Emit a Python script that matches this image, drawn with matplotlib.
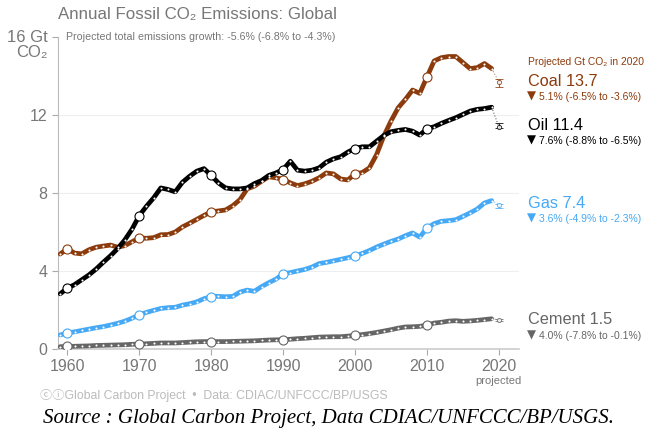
import numpy as np
import matplotlib.pyplot as plt

plt.rcParams['font.family'] = ['Liberation Sans', 'DejaVu Sans', 'Noto Sans CJK SC']

# --- dane (Gt CO2) ---
years = list(range(1959, 2020))

coal = [4.87, 5.14, 4.92, 4.88, 5.09, 5.22, 5.28, 5.33, 5.22, 5.30,
        5.50, 5.69, 5.68, 5.71, 5.86, 5.87, 6.00, 6.26, 6.45, 6.65,
        6.85, 7.03, 7.08, 7.13, 7.35, 7.66, 8.21, 8.35, 8.60, 8.83,
        8.78, 8.69, 8.52, 8.38, 8.47, 8.60, 8.78, 9.03, 8.98, 8.72,
        8.67, 8.98, 9.05, 9.29, 9.97, 10.92, 11.69, 12.37, 12.80, 13.28,
        13.11, 13.95, 14.77, 14.94, 15.00, 15.00, 14.69, 14.38, 14.43, 14.64,
        14.38]

oil = [2.83, 3.12, 3.30, 3.55, 3.80, 4.10, 4.45, 4.78, 5.15, 5.60,
       6.15, 6.84, 7.32, 7.75, 8.26, 8.18, 8.06, 8.55, 8.86, 9.12,
       9.25, 8.90, 8.52, 8.26, 8.21, 8.21, 8.26, 8.48, 8.64, 8.90,
       9.03, 9.20, 9.63, 9.17, 9.12, 9.17, 9.29, 9.58, 9.75, 9.86,
       10.10, 10.28, 10.37, 10.37, 10.66, 10.95, 11.14, 11.21, 11.26, 11.17,
       10.97, 11.29, 11.40, 11.57, 11.72, 11.86, 12.03, 12.20, 12.29, 12.33,
       12.40]

gas = [0.72, 0.82, 0.88, 0.95, 1.02, 1.09, 1.15, 1.23, 1.32, 1.43,
       1.58, 1.75, 1.88, 1.98, 2.08, 2.12, 2.14, 2.25, 2.32, 2.42,
       2.58, 2.69, 2.70, 2.68, 2.70, 2.92, 3.02, 2.96, 3.20, 3.40,
       3.58, 3.86, 3.92, 4.00, 4.08, 4.20, 4.38, 4.44, 4.52, 4.60,
       4.68, 4.77, 4.90, 5.05, 5.23, 5.38, 5.52, 5.64, 5.81, 5.95,
       5.74, 6.20, 6.43, 6.55, 6.58, 6.63, 6.80, 6.98, 7.18, 7.49,
       7.61]

cement = [0.12, 0.13, 0.14, 0.15, 0.16, 0.18, 0.19, 0.20, 0.21, 0.22,
          0.24, 0.25, 0.27, 0.29, 0.31, 0.31, 0.31, 0.33, 0.35, 0.37,
          0.38, 0.38, 0.38, 0.38, 0.39, 0.40, 0.41, 0.42, 0.44, 0.46,
          0.47, 0.48, 0.50, 0.53, 0.55, 0.58, 0.61, 0.62, 0.63, 0.63,
          0.66, 0.70, 0.74, 0.79, 0.85, 0.92, 0.99, 1.07, 1.13, 1.14,
          1.16, 1.23, 1.33, 1.37, 1.43, 1.45, 1.42, 1.44, 1.47, 1.51,
          1.55]

# projekcja 2020: wartość, dół, góra
proj_year = 2020
proj = {'Coal': (13.7, 13.45, 13.87),
        'Oil': (11.4, 11.31, 11.59),
        'Gas': (7.4, 7.24, 7.43),
        'Cement': (1.5, 1.43, 1.55)}

labels = {'Coal': 'Coal 13.7', 'Oil': 'Oil 11.4', 'Gas': 'Gas 7.4', 'Cement': 'Cement 1.5'}
changes = {'Coal': '5.1% (-6.5% to -3.6%)',
           'Oil': '7.6% (-8.8% to -6.5%)',
           'Gas': '3.6% (-4.9% to -2.3%)',
           'Cement': '4.0% (-7.8% to -0.1%)'}

x_ticks = [1960, 1970, 1980, 1990, 2000, 2010, 2020]
y_ticks = [0, 4, 8, 12, 16]

colors = {'Coal': '#8c3b0c', 'Oil': '#000000', 'Gas': '#46a9f5', 'Cement': '#666666'}
series = {'Coal': coal, 'Oil': oil, 'Gas': gas, 'Cement': cement}

W, H = 652, 429
fig = plt.figure(figsize=(W / 100, H / 100), dpi=100)
ax = fig.add_axes([58 / W, 1 - 349 / H, (519 - 58) / W, (349 - 37) / H])

def fx(px):
    return px / W

def fy(py):
    return 1 - py / H

yrs = np.array(years)
decade = yrs % 10 == 0

for name, vals in series.items():
    c = colors[name]
    v = np.array(vals)
    ax.plot(yrs, v, '-', color=c, lw=3.4, solid_capstyle='round', zorder=3)
    ax.plot(yrs, v, 'o', color='white', ms=1.5, mew=0, zorder=4)
    ax.plot(yrs[decade], v[decade], 'o', mfc='white', mec=c, ms=6.5, mew=0.8, zorder=5)
    val, lo, hi = proj[name]
    ax.plot([yrs[-1], proj_year], [v[-1], val], ':', color=c, lw=0.8, alpha=0.6, zorder=2)
    ax.errorbar([proj_year], [val], yerr=[[val - lo], [hi - val]], fmt='o', mfc='white',
                mec=c, ecolor=c, ms=3, mew=0.7, elinewidth=0.8, capsize=3, capthick=0.8,
                alpha=0.8, zorder=5)

ax.set_xlim(1958.7, 2022.8)
ax.set_ylim(0, 16)
ax.set_yticks(y_ticks)
ax.set_yticklabels(['0', '4', '8', '12', ''])
ax.set_xticks(x_ticks)
ax.set_xticklabels([str(t) for t in x_ticks])
ax.tick_params(axis='both', colors='#aaaaaa', labelcolor='#777777', labelsize=11.5, length=4, width=0.8)
for t in y_ticks[1:4]:
    ax.axhline(t, color='#eeeeee', lw=0.8, zorder=0)

for s in ['top', 'right']:
    ax.spines[s].set_visible(False)
ax.spines['left'].set_color('#bbbbbb')
ax.spines['bottom'].set_color('#cccccc')
ax.spines['left'].set_linewidth(0.8)
ax.spines['bottom'].set_linewidth(1.2)

# teksty
gray = '#777777'
fig.text(fx(58), fy(14), 'Annual Fossil CO₂ Emissions: Global', color=gray, fontsize=12.2, va='center')
fig.text(fx(48), fy(37), '16 Gt', color=gray, fontsize=12, va='center', ha='right')
fig.text(fx(48), fy(53), 'CO₂', color=gray, fontsize=12, va='center', ha='right')
fig.text(fx(66), fy(37), 'Projected total emissions growth: -5.6% (-6.8% to -4.3%)',
         color=gray, fontsize=7.7, va='center')
fig.text(fx(498), fy(381), 'projected', color=gray, fontsize=8, va='center', ha='center')

fig.text(fx(528), fy(62), 'Projected Gt CO₂ in 2020', color=colors['Coal'], fontsize=7.4, va='center')
label_y = {'Coal': 81, 'Oil': 125, 'Gas': 203, 'Cement': 320}
for name, py in label_y.items():
    c = colors[name]
    fig.text(fx(528), fy(py), labels[name], color=c, fontsize=11.7, va='center')
    fig.text(fx(527), fy(py + 15.5), '▼', color=c, fontsize=8.5, va='center', family='DejaVu Sans')
    fig.text(fx(539), fy(py + 16), changes[name], color=c, fontsize=7.5, va='center')

fig.text(fx(40), fy(395), 'ⓒⓘGlobal Carbon Project  •  Data: CDIAC/UNFCCC/BP/USGS',
         color='#bbbbbb', fontsize=8.8, va='center')
fig.text(fx(43), fy(418), 'Source : Global Carbon Project, Data CDIAC/UNFCCC/BP/USGS.',
         family='Liberation Serif', style='italic', fontsize=15, va='center', color='black')

fig.savefig('out.png', dpi=100)
